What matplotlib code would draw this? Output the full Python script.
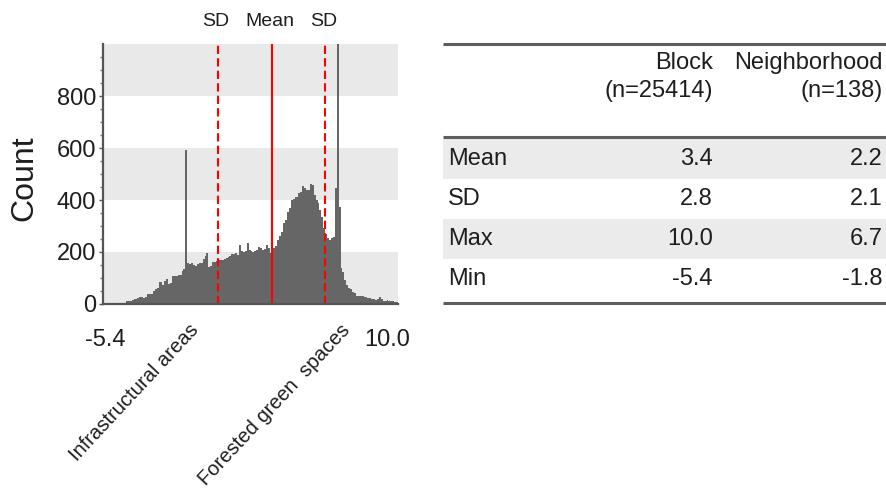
import numpy as np
import matplotlib
matplotlib.use('Agg')
import matplotlib.pyplot as plt

plt.rcParams['font.family'] = ['Liberation Sans', 'DejaVu Sans']

# block scores, counted in bins of 0.1 from -5.4 to 10.0
counts = [
    0, 0, 0, 0, 0, 0, 0, 0, 0, 0, 0, 0,
    12, 12, 12, 14, 18, 18, 24, 28, 26, 25, 28, 38, 38, 40, 50, 56, 60, 86,
    84, 75, 90, 95, 76, 80, 106, 108, 106, 110, 112, 128, 134, 592, 159, 155,
    158, 150, 148, 154, 156, 157, 172, 185, 196, 143, 145, 163, 162, 166, 168,
    170, 169, 172, 176, 182, 184, 194, 192, 196, 190, 227, 204, 200, 202, 233,
    206, 203, 200, 205, 208, 218, 215, 208, 210, 227, 214, 195, 198, 214, 222,
    246, 262, 278, 310, 325, 355, 368, 400, 405, 413, 412, 426, 430, 454, 445,
    438, 440, 462, 458, 419, 400, 387, 360, 336, 291, 270, 255, 246, 252, 259,
    445, 1000, 374, 140, 125, 92, 73, 62, 58, 47, 42, 31, 32, 30, 31, 26, 27,
    25, 22, 18, 18, 17, 18, 26, 20, 13, 13, 14, 12, 13, 12, 9, 8,
]
x_min = -5.4
x_max = 10.0

mean_val = 3.4
sd_val = 2.8

# the two spikes and the land cover they stand for
spike_pos = [-1.05, 6.85]
spike_names = ['Infrastructural areas', 'Forested green  spaces']

row_names = ['Mean', 'SD', 'Max', 'Min']
block_vals = [3.4, 2.8, 10.0, -5.4]
hood_vals = [2.2, 2.1, 6.7, -1.8]
col_names = ['Block', 'Neighborhood']
col_n = [25414, 138]

W, H = 886, 490
dark = '#1e1e1e'
rule = '#5e5e5e'
band = '#e9e9e9'

fig = plt.figure(figsize=(W / 100, H / 100), dpi=100)

# ---- histogram ----
ax = fig.add_axes([103 / W, (H - 304) / H, 295 / W, 260 / H])
edges = np.linspace(x_min, x_max, len(counts) + 1)
ax.stairs(counts, edges, fill=True, color='#666666', zorder=2)
ax.set_xlim(x_min, x_max)
ax.set_ylim(0, 1000)
for lo in (0, 400, 800):
    ax.axhspan(lo, lo + 200, color=band, lw=0, zorder=0)

ax.axvline(mean_val, color='#ff0000', lw=1.5, zorder=3)
for v in (mean_val - sd_val, mean_val + sd_val):
    ax.axvline(v, color='#ff0000', lw=1.5, ls=(0, (4, 2)), zorder=3)

for v, s in ((mean_val - sd_val, 'SD'), (mean_val, 'Mean'), (mean_val + sd_val, 'SD')):
    ax.annotate(s, xy=(v, 1), xycoords=('data', 'axes fraction'),
                xytext=(-2, 23), textcoords='offset pixels',
                ha='center', va='center', fontsize=14, color=dark)

for sp in ('top', 'right'):
    ax.spines[sp].set_visible(False)
for sp in ('left', 'bottom'):
    ax.spines[sp].set_color('#555555')
    ax.spines[sp].set_linewidth(1.6)
    ax.spines[sp].set_zorder(4)

ax.set_yticks([0, 200, 400, 600, 800])
ax.set_yticks(np.arange(50, 1000, 50), minor=True)
ax.tick_params(axis='y', which='major', length=3, width=1, color='#555555',
               labelsize=17, labelcolor=dark, pad=2)
ax.tick_params(axis='y', which='minor', length=2, width=1, color='#777777')
ax.set_xticks([])

ax.annotate('-5.4', xy=(x_min, 0), xycoords=('data', 'axes fraction'),
            xytext=(2, -36), textcoords='offset pixels',
            ha='center', va='center', fontsize=17, color=dark)
ax.annotate('10.0', xy=(x_max, 0), xycoords=('data', 'axes fraction'),
            xytext=(-11, -36), textcoords='offset pixels',
            ha='center', va='center', fontsize=17, color=dark)
for v, s in zip(spike_pos, spike_names):
    ax.annotate(s, xy=(v, 0), xycoords=('data', 'axes fraction'),
                xytext=(13, -27), textcoords='offset pixels',
                rotation=47, rotation_mode='anchor', ha='right', va='baseline',
                fontsize=14.5, color=dark)

fig.text(24 / W, 1 - 178 / H, 'Count', rotation=90, ha='center', va='center',
         fontsize=23, color=dark)

# ---- summary table, drawn in figure pixels ----
tab = fig.add_axes([0, 0, 1, 1])
tab.set_xlim(0, W)
tab.set_ylim(H, 0)
tab.axis('off')

t_left, t_right = 443, W
col_x = [713, 883]
row_top, row_h = 139, 40

for i, name in enumerate(row_names):
    y0 = row_top + i * row_h
    if i % 2 == 0:
        tab.fill_between([t_left, t_right], y0, y0 + row_h, color='#ebebeb', lw=0)
    yc = y0 + row_h / 2
    tab.text(448, yc, name, ha='left', va='center', fontsize=17, color=dark)
    for cx, val in zip(col_x, (block_vals[i], hood_vals[i])):
        tab.text(cx, yc, '{:.1f}'.format(val), ha='right', va='center',
                 fontsize=17, color=dark)

for cx, name, n in zip(col_x, col_names, col_n):
    tab.text(cx, 63, name, ha='right', va='center', fontsize=17, color=dark)
    tab.text(cx, 91, '(n={})'.format(n), ha='right', va='center', fontsize=17, color=dark)

tab.hlines([44, 137.5, 302.5], t_left, t_right, color=rule, lw=2.2)

fig.savefig('out.png', dpi=100)
